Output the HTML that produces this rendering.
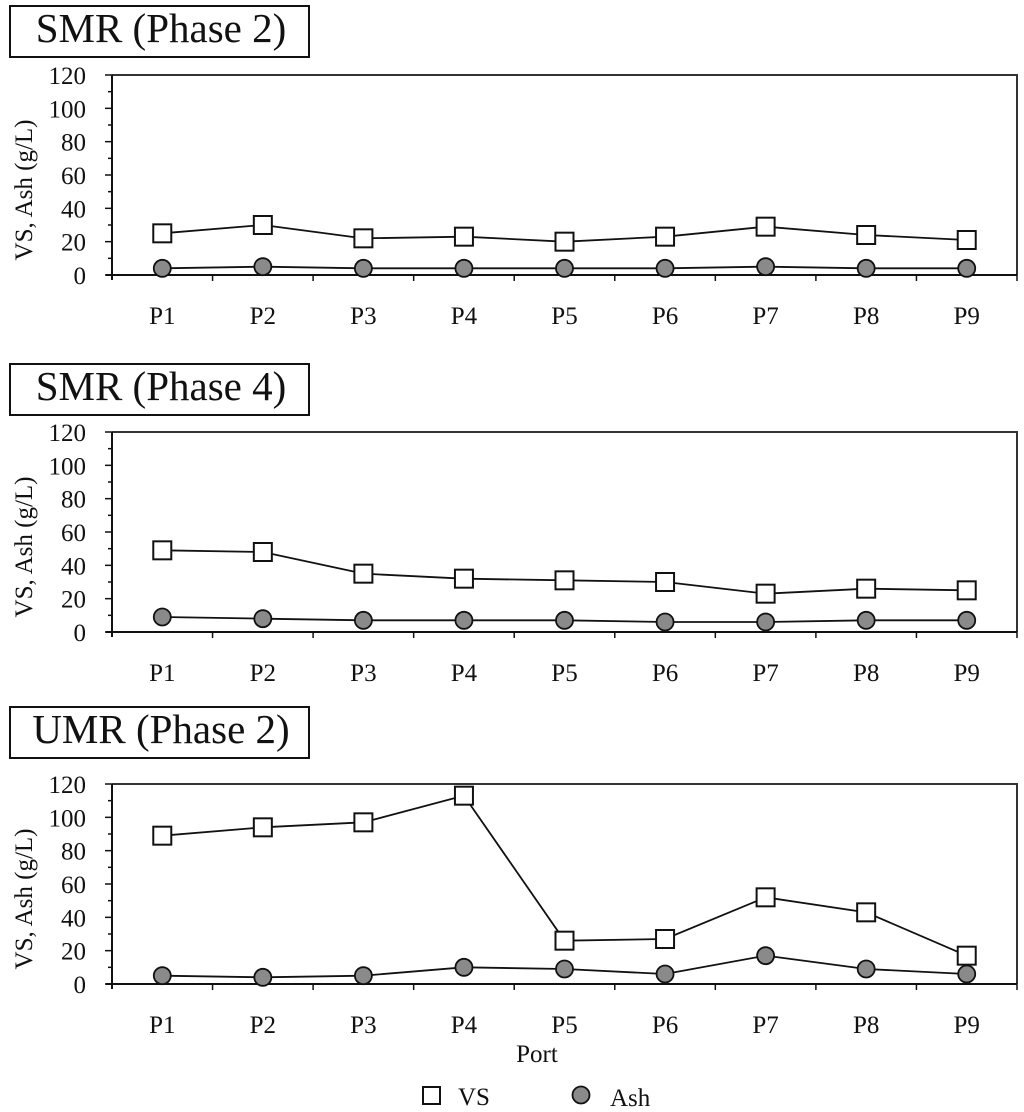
<!DOCTYPE html>
<html><head><meta charset="utf-8"><style>
html,body{margin:0;padding:0;background:#fff;}
svg{display:block;font-family:"Liberation Serif",serif;}
</style></head><body>
<svg id="chart" width="1024" height="1112" viewBox="0 0 1024 1112"></svg>
<script>
const categories=["P1","P2","P3","P4","P5","P6","P7","P8","P9"];
const yTicks=[0,20,40,60,80,100,120];
const panelTitles=["SMR (Phase 2)","SMR (Phase 4)","UMR (Phase 2)"];
const vs1=[25,30,22,23,20,23,29,24,21];
const ash1=[4,5,4,4,4,4,5,4,4];
const vs2=[49,48,35,32,31,30,23,26,25];
const ash2=[9,8,7,7,7,6,6,7,7];
const vs3=[89,94,97,113,26,27,52,43,17];
const ash3=[5,4,5,10,9,6,17,9,6];
const vsSeries=[vs1,vs2,vs3];
const ashSeries=[ash1,ash2,ash3];

const NS="http://www.w3.org/2000/svg";
const svg=document.getElementById('chart');
function mk(tag,attrs,parent){const e=document.createElementNS(NS,tag);for(const k in attrs)e.setAttribute(k,attrs[k]);(parent||svg).appendChild(e);return e;}
const L=112,R=1017;
const panels=[{box:6,top:75,bot:275},{box:364,top:432,bot:632},{box:707,top:784,bot:984}];
const bw=(R-L)/categories.length;
const xs=i=>L+bw*(i+0.5);
panels.forEach((p,pi)=>{
  const g=mk('g',{});
  
  
  const ys=v=>p.bot-(v/120)*(p.bot-p.top);
  const tb=mk('rect',{x:10,y:p.box,width:299,height:51,fill:'#fff',stroke:'#111','stroke-width':2},g);
  
  
  const tt=mk('text',{x:161,y:p.box+36,'text-anchor':'middle','font-size':41,fill:'#111'},g);
  
  
  tt.textContent=panelTitles[pi];
  const fr=mk('path',{d:`M${L} ${p.top}H${R}V${p.bot}`,fill:'none',stroke:'#333','stroke-width':2},g);
  
  
  const ya=mk('line',{x1:L,y1:p.top,x2:L,y2:p.bot+5,stroke:'#111','stroke-width':2},g);
  
  
  const xa=mk('line',{x1:L-6,y1:p.bot,x2:R,y2:p.bot,stroke:'#111','stroke-width':2},g);
  
  
  for(let v=0;v<=120;v+=10){mk('line',{x1:L-(v%20?4:7),y1:ys(v),x2:L,y2:ys(v),stroke:'#111','stroke-width':1.5},g);}
  yTicks.forEach(v=>{const t=mk('text',{x:86,y:ys(v)+9,'text-anchor':'end','font-size':25,fill:'#111'},g);
    
    
    t.textContent=v;});
  for(let i=1;i<=categories.length;i++){mk('line',{x1:L+bw*i,y1:p.bot,x2:L+bw*i,y2:p.bot+6,stroke:'#111','stroke-width':1.5},g);}
  categories.forEach((c,i)=>{const t=mk('text',{x:xs(i),y:p.bot+49,'text-anchor':'middle','font-size':25,fill:'#111'},g);
    
    
    t.textContent=c;});
  const yt=mk('text',{x:0,y:0,'text-anchor':'middle','font-size':25,fill:'#111',transform:`translate(32 ${(p.top+p.bot)/2+15}) rotate(-90)`},g);
  
  
  yt.textContent='VS, Ash (g/L)';
  const vs=vsSeries[pi],ash=ashSeries[pi];
  const l1=mk('polyline',{points:vs.map((v,i)=>xs(i)+','+ys(v)).join(' '),fill:'none',stroke:'#111','stroke-width':1.8},g);
  
  
  const l2=mk('polyline',{points:ash.map((v,i)=>xs(i)+','+ys(v)).join(' '),fill:'none',stroke:'#111','stroke-width':1.8},g);
  
  
  vs.forEach((v,i)=>{const r=mk('rect',{x:xs(i)-9,y:ys(v)-9,width:18,height:18,fill:'#fff',stroke:'#111','stroke-width':2},g);
    
    });
  ash.forEach((v,i)=>{const c=mk('circle',{cx:xs(i),cy:ys(v),r:8.5,fill:'#8a8a8a',stroke:'#111','stroke-width':1.8},g);
    
    });
});
const xt=mk('text',{x:537,y:1062,'text-anchor':'middle','font-size':25,fill:'#111'});


xt.textContent='Port';
const lg=mk('g',{});


const ls=mk('rect',{x:423,y:1087,width:17,height:17,fill:'#fff',stroke:'#111','stroke-width':2},lg);


const lt=mk('text',{x:458,y:1105,'font-size':25,fill:'#111'},lg);


lt.textContent='VS';
const lc=mk('circle',{cx:581,cy:1095,r:8.5,fill:'#8a8a8a',stroke:'#111','stroke-width':1.8},lg);


const la=mk('text',{x:610,y:1106,'font-size':25,fill:'#111'},lg);


la.textContent='Ash';
</script>
</body></html>
